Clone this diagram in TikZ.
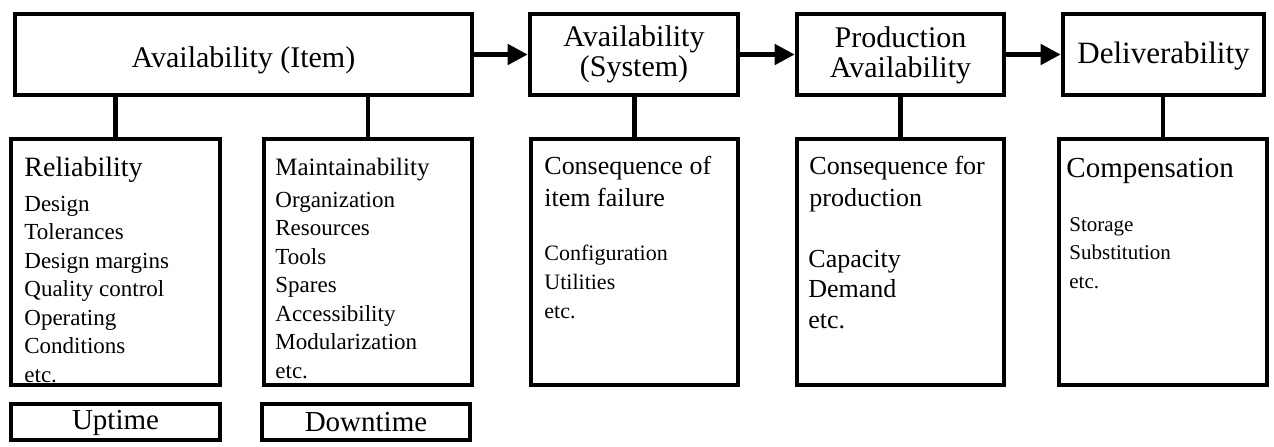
\documentclass[tikz,border=0pt]{standalone}
\usepackage{fontspec}
\setmainfont{Liberation Serif}
\usetikzlibrary{arrows.meta}

% font size with matching line spacing
\newcommand{\fsz}[2]{\fontsize{#1pt}{#2pt}\selectfont}

\begin{document}
\begin{tikzpicture}[x=0.5pt,y=-0.5pt,
  frame/.style 2 args={draw=black, line width=2.3pt, inner sep=0pt,
    minimum width=#1*0.5pt, minimum height=#2*0.5pt},
  link/.style={line width=2.3pt},
  flow/.style={line width=2.3pt, -{Triangle[length=10pt,width=10pt]}},
  txt/.style={inner sep=0pt, anchor=base west},
  title/.style={inner sep=0pt, align=center}
]
\fill[white] (0,0) rectangle (1274,446);
\useasboundingbox (0,0) rectangle (1274,446);

% ---- top row
\node[frame={457}{81}] (item)   at (243.5,54.5) {};
\node[frame={208}{81}] (system) at (634,54.5) {};
\node[frame={207}{81}] (prod)   at (900.5,54.5) {};
\node[frame={201}{81}] (deliv)  at (1163.5,54.5) {};

\node[title, font=\fsz{15}{15}] (itemT)   at (243.5,60) {Availability (Item)};
\node[title, font=\fsz{15}{15}] (systemT) at (634,54.5) {Availability\\(System)};
\node[title, font=\fsz{15}{15}] (prodT)   at (900.5,55) {Production\\Availability};
\node[title, font=\fsz{15.5}{15.5}] (delivT) at (1163.5,56) {Deliverability};

\draw[flow] (item.east) -- (system.west);
\draw[flow] (system.east) -- (prod.west);
\draw[flow] (prod.east) -- (deliv.west);

% ---- detail boxes
\node[frame={209}{246}] (rel)   at (115.5,262) {};
\node[frame={208}{246}] (maint) at (368,262) {};
\node[frame={207}{246}] (cons)  at (634.5,262) {};
\node[frame={207}{246}] (cprod) at (900.5,262) {};
\node[frame={208}{246}] (comp)  at (1163,262) {};

\node[frame={209}{36}] (up)   at (115.5,422) {};
\node[frame={208}{36}] (down) at (366,422) {};

\draw[link] (rel.north)   -- (rel.north |- item.south);
\draw[link] (maint.north) -- (maint.north |- item.south);
\draw[link] (cons.north)  -- (cons.north |- system.south);
\draw[link] (cprod.north) -- (cprod.north |- prod.south);
\draw[link] (comp.north)  -- (comp.north |- deliv.south);

% ---- texts
\node[txt, font=\fsz{14}{14}] (relH) at (24,176) {Reliability};
\foreach \t [count=\i from 0] in {Design, Tolerances, Design margins, Quality control, Operating, Conditions, etc.}
  \node[txt, font=\fsz{11.5}{11.5}] (rel-\i) at (24,{211+28.5*\i}) {\t};

\node[txt, font=\fsz{12.5}{12.5}] (maintH) at (275,175) {Maintainability};
\foreach \t [count=\i from 0] in {Organization, Resources, Tools, Spares, Accessibility, Modularization, etc.}
  \node[txt, font=\fsz{11.5}{11.5}] (maint-\i) at (275,{207+28.5*\i}) {\t};

\node[txt, font=\fsz{13}{13}] (consH1) at (544,174) {Consequence of};
\node[txt, font=\fsz{13}{13}] (consH2) at (544,206) {item failure};
\foreach \t [count=\i from 0] in {Configuration, Utilities, etc.}
  \node[txt, font=\fsz{11}{11}] (cons-\i) at (544,{260+29*\i}) {\t};

\node[txt, font=\fsz{13}{13}] (cprodH1) at (809,174) {Consequence for};
\node[txt, font=\fsz{13}{13}] (cprodH2) at (809,206) {production};
\foreach \t [count=\i from 0] in {Capacity, Demand, etc.}
  \node[txt, font=\fsz{13}{13}] (cprod-\i) at (808,{267+30.5*\i}) {\t};

\node[txt, font=\fsz{14.5}{14.5}] (compH) at (1066,177) {Compensation};
\foreach \t [count=\i from 0] in {Storage, Substitution, etc.}
  \node[txt, font=\fsz{10.5}{10.5}] (comp-\i) at (1069,{231+28.5*\i}) {\t};

\node[title, font=\fsz{14.5}{14.5}] (upT)   at (115.5,423) {Uptime};
\node[title, font=\fsz{14.5}{14.5}] (downT) at (366,422) {Downtime};
\end{tikzpicture}
\end{document}
